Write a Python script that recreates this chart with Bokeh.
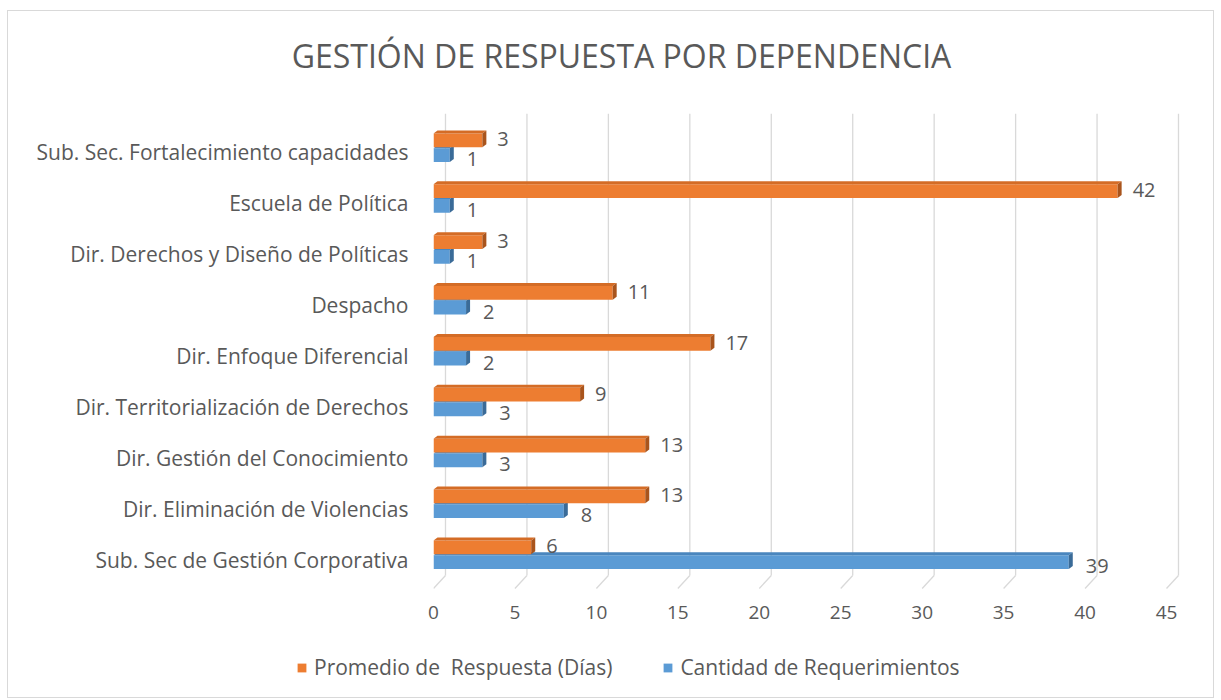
from bokeh.plotting import figure
from bokeh.layouts import column, row
from bokeh.models import FixedTicker, Legend, LegendItem, ColumnDataSource, Spacer
from bokeh.core.properties import value
from bokeh.embed import file_html
from bokeh.resources import INLINE

# ---- data (bottom to top) ----
categories = [
    "Sub. Sec de Gestión Corporativa",
    "Dir. Eliminación de Violencias",
    "Dir. Gestión del Conocimiento",
    "Dir. Territorialización de Derechos",
    "Dir. Enfoque Diferencial",
    "Despacho",
    "Dir. Derechos y Diseño de Políticas",
    "Escuela de Política",
    "Sub. Sec. Fortalecimiento capacidades",
]
promedio_respuesta = [6, 13, 13, 9, 17, 11, 3, 42, 3]
cantidad_requerimientos = [39, 8, 3, 3, 2, 2, 1, 1, 1]
x_ticks = [0, 5, 10, 15, 20, 25, 30, 35, 40, 45]
series_names = ["Promedio de  Respuesta (Días)", "Cantidad de Requerimientos"]
title_text = "GESTIÓN DE RESPUESTA POR DEPENDENCIA"

FONT = "Open Sans"
TXT = "#595959"
ORANGE, ORANGE_TOP, ORANGE_SIDE = "#ED7D31", "#D46C26", "#A9541C"
BLUE, BLUE_TOP, BLUE_SIDE = "#5B9BD5", "#4A86BE", "#3A6B98"

# geometry (layout constants)
PX_X = 16.29   # px per x unit
PX_Y = 50.88   # px per category
DX = 4 / PX_X  # 3D depth offsets
DY = 3 / PX_Y
BAR_H = 0.27
OFF_O = 0.24
OFF_B = -0.05
BACK_DX = 12 / PX_X
Y_TOP = 8.766
TITLE_H = 80


def strip(h):
    f = figure(width=1202, height=h, x_range=(0, 1202), y_range=(0, h),
               output_backend="svg", toolbar_location=None,
               min_border_left=0, min_border_right=0, min_border_top=0,
               min_border_bottom=0)
    f.axis.visible = False
    f.grid.visible = False
    f.outline_line_color = None
    f.border_fill_color = "white"
    return f


# ---- title strip ----
pt = strip(TITLE_H)
pt.text(x=[612], y=[TITLE_H - 44], text=[title_text], text_font=value(FONT),
        text_font_size="32px", text_color=TXT, text_align="center",
        text_baseline="middle")

# ---- main chart ----
p = figure(width=1205, height=629 - TITLE_H, x_range=(0, 45 + 14 / PX_X),
           y_range=(-0.648, Y_TOP), output_backend="svg",
           toolbar_location=None,
           min_border_left=425, min_border_right=33,
           min_border_top=102 - TITLE_H, min_border_bottom=48)
p.outline_line_color = None
p.xgrid.visible = False
p.ygrid.visible = False
p.background_fill_color = "white"
p.border_fill_color = "white"

# back-wall grid lines with the floor diagonals
y_back = -(575 - 559) / PX_Y
y_front = -(588 - 559) / PX_Y
p.segment(x0=[t + BACK_DX for t in x_ticks], y0=[y_back] * len(x_ticks),
          x1=[t + BACK_DX for t in x_ticks], y1=[Y_TOP] * len(x_ticks),
          line_color="#d9d9d9", line_width=1.3)
p.segment(x0=[t + BACK_DX for t in x_ticks], y0=[y_back] * len(x_ticks),
          x1=x_ticks, y1=[y_front] * len(x_ticks),
          line_color="#d9d9d9", line_width=1.3)

idx = list(range(len(categories)))


def bar3d(vals, off, c_front, c_top, c_side):
    yc = [i + off for i in idx]
    r = p.hbar(y=yc, left=0, right=vals, height=BAR_H, fill_color=c_front,
               line_color=None)
    top_xs, top_ys, side_xs, side_ys = [], [], [], []
    for v, y in zip(vals, yc):
        yt, yb = y + BAR_H / 2, y - BAR_H / 2
        top_xs.append([0, v, v + DX, DX])
        top_ys.append([yt, yt, yt + DY, yt + DY])
        side_xs.append([v, v + DX, v + DX, v])
        side_ys.append([yb, yb + DY, yt + DY, yt])
    p.patches(top_xs, top_ys, fill_color=c_top, line_color=None)
    p.patches(side_xs, side_ys, fill_color=c_side, line_color=None)
    return r, yc


r_blue, yc_b = bar3d(cantidad_requerimientos, OFF_B, BLUE, BLUE_TOP, BLUE_SIDE)
r_orange, yc_o = bar3d(promedio_respuesta, OFF_O, ORANGE, ORANGE_TOP, ORANGE_SIDE)

# value labels
src_o = ColumnDataSource(dict(x=[v + DX for v in promedio_respuesta], y=yc_o,
                              t=[str(v) for v in promedio_respuesta]))
src_b = ColumnDataSource(dict(x=[v + DX for v in cantidad_requerimientos], y=yc_b,
                              t=[str(v) for v in cantidad_requerimientos]))
p.text(x="x", y="y", text="t", source=src_o, x_offset=11, y_offset=-1,
       text_font=value(FONT), text_font_size="20px", text_color=TXT,
       text_baseline="middle", text_align="left")
p.text(x="x", y="y", text="t", source=src_b, x_offset=13, y_offset=4,
       text_font=value(FONT), text_font_size="20px", text_color=TXT,
       text_baseline="middle", text_align="left")

# axes
p.yaxis.ticker = FixedTicker(ticks=idx)
p.yaxis.major_label_overrides = {i: c for i, c in zip(idx, categories)}
p.xaxis.ticker = FixedTicker(ticks=x_ticks)
for ax in (p.xaxis[0], p.yaxis[0]):
    ax.axis_line_color = None
    ax.major_tick_line_color = None
    ax.minor_tick_line_color = None
    ax.major_tick_out = 0
    ax.major_tick_in = 0
    ax.major_label_text_font = FONT
    ax.major_label_text_color = TXT
p.yaxis.major_label_text_font_size = "21px"
p.xaxis.major_label_text_font_size = "19px"
p.yaxis.major_label_standoff = 25
p.xaxis.major_label_standoff = 13

# ---- legend strip ----
pl = strip(57)
lo = pl.hbar(y=[-5], left=[0], right=[1], height=1, fill_color=ORANGE, line_color=None)
lb = pl.hbar(y=[-5], left=[0], right=[1], height=1, fill_color=BLUE, line_color=None)
legend = Legend(items=[LegendItem(label=series_names[0], renderers=[lo]),
                       LegendItem(label=series_names[1], renderers=[lb])],
                orientation="horizontal", location=(287, 16),
                glyph_width=11, glyph_height=11, label_standoff=7, spacing=50,
                padding=0, margin=0, border_line_color=None,
                background_fill_alpha=0,
                label_text_font=FONT, label_text_font_size="21px",
                label_text_color=TXT)
pl.add_layout(legend)

layout = column(row(Spacer(width=1, height=TITLE_H), pt, spacing=0),
                p,
                row(Spacer(width=1, height=57), pl, spacing=0), spacing=0)
layout.styles = {"border": "1px solid #d9d9d9", "margin-left": "7px",
                 "margin-top": "10px"}

open("out.html", "w").write(file_html(layout, INLINE))
